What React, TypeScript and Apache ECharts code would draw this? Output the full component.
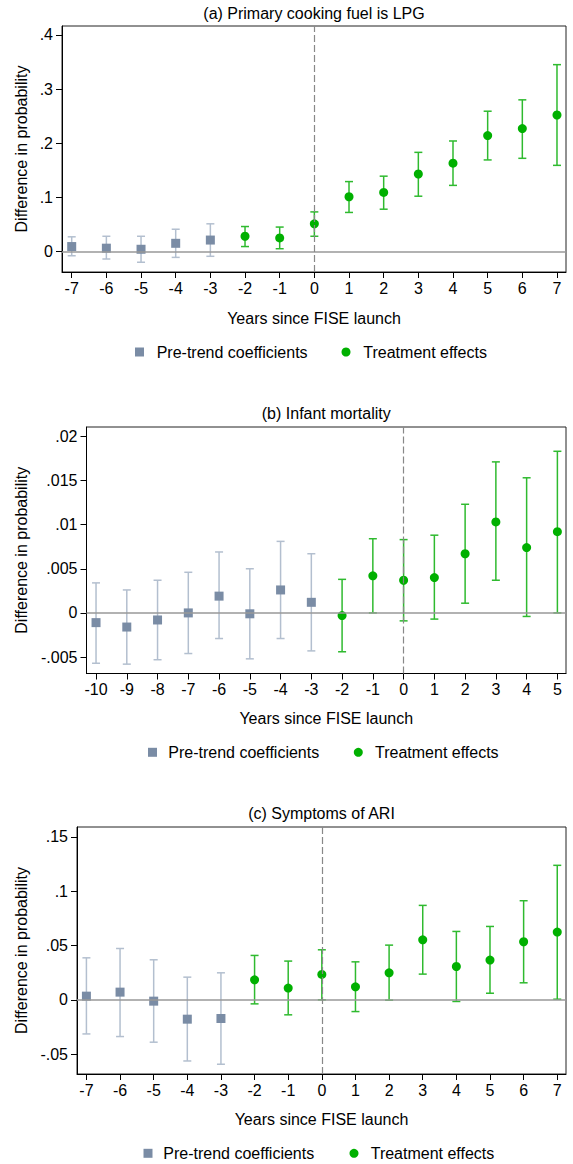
import React, { useEffect, useRef } from "react";
import * as echarts from "echarts";

// ---------- data ----------
const lpgYears = [-7, -6, -5, -4, -3, -2, -1, 0, 1, 2, 3, 4, 5, 6, 7];
const lpgCoef = [0.009, 0.006, 0.004, 0.015, 0.021, 0.028, 0.025, 0.051, 0.101, 0.109, 0.143, 0.163, 0.214, 0.227, 0.252];
const lpgLow = [-0.008, -0.014, -0.02, -0.011, -0.009, 0.009, 0.005, 0.028, 0.072, 0.078, 0.102, 0.122, 0.169, 0.172, 0.159];
const lpgHigh = [0.027, 0.028, 0.028, 0.041, 0.051, 0.046, 0.045, 0.073, 0.129, 0.139, 0.183, 0.204, 0.259, 0.28, 0.345];
const lpgTicks = [0, 0.1, 0.2, 0.3, 0.4];

const imYears = [-10, -9, -8, -7, -6, -5, -4, -3, -2, -1, 0, 1, 2, 3, 4, 5];
const imCoef = [-0.0011, -0.0016, -0.0008, 0.0, 0.0019, -0.0001, 0.0026, 0.0012, -0.0003, 0.0042, 0.0037, 0.004, 0.0067, 0.0103, 0.0074, 0.0092];
const imLow = [-0.0057, -0.0058, -0.0053, -0.0046, -0.0029, -0.0052, -0.0029, -0.0043, -0.0044, 0.0, -0.0009, -0.0007, 0.0011, 0.0037, -0.0004, 0.0];
const imHigh = [0.0034, 0.0026, 0.0037, 0.0046, 0.0069, 0.005, 0.0081, 0.0067, 0.0038, 0.0084, 0.0083, 0.0088, 0.0123, 0.0171, 0.0153, 0.0183];
const imTicks = [-0.005, 0, 0.005, 0.01, 0.015, 0.02];

const ariYears = [-7, -6, -5, -4, -3, -2, -1, 0, 1, 2, 3, 4, 5, 6, 7];
const ariCoef = [0.0034, 0.0071, -0.0012, -0.0178, -0.0172, 0.0184, 0.0108, 0.0234, 0.012, 0.0249, 0.0553, 0.0307, 0.0366, 0.0535, 0.0624];
const ariLow = [-0.0314, -0.0338, -0.039, -0.0563, -0.0593, -0.0037, -0.0138, 0.0, -0.0108, -0.0003, 0.0237, -0.0015, 0.0061, 0.0157, 0.0006];
const ariHigh = [0.0387, 0.0473, 0.0369, 0.0209, 0.0249, 0.0409, 0.0357, 0.0461, 0.035, 0.0504, 0.087, 0.063, 0.0676, 0.0913, 0.1239];
const ariTicks = [-0.05, 0, 0.05, 0.1, 0.15];

const panelTitles = ["(a) Primary cooking fuel is LPG", "(b) Infant mortality", "(c) Symptoms of ARI"];
const xTitle = "Years since FISE launch";
const yTitle = "Difference in probability";
const legendNames = ["Pre-trend coefficients", "Treatment effects"];
const treatStart = -2;

// ---------- styles ----------
const FONT = "'Liberation Sans', Arial, Helvetica, sans-serif";
const PRE_MARK = "#7a8ca5";
const PRE_CI = "#b3bfcf";
const TR_MARK = "#00b000";
const TR_CI = "#2fba2f";

const panels = [
  { years: lpgYears, coef: lpgCoef, low: lpgLow, high: lpgHigh, ticks: lpgTicks,
    grid: { left: 62, top: 26, width: 504, height: 246 },
    xMin: -7.28, xMax: 7.26, yMin: -0.038, yMax: 0.4164,
    titleY: 13, xTitleY: 318, legendY: 352,
    leg: { sq: 139.5, t1: 156.7, ci: 346, t2: 363.3 } },
  { years: imYears, coef: imCoef, low: imLow, high: imHigh, ticks: imTicks,
    grid: { left: 86.5, top: 427, width: 479.5, height: 246.5 },
    xMin: -10.31, xMax: 5.28, yMin: -0.00686, yMax: 0.02105,
    titleY: 413, xTitleY: 718.3, legendY: 752.3,
    leg: { sq: 152.5, t1: 168.3, ci: 358.3, t2: 375 } },
  { years: ariYears, coef: ariCoef, low: ariLow, high: ariHigh, ticks: ariTicks,
    grid: { left: 77, top: 827, width: 489, height: 247 },
    xMin: -7.28, xMax: 7.26, yMin: -0.0683, yMax: 0.1592,
    titleY: 813, xTitleY: 1119, legendY: 1153.3,
    leg: { sq: 148, t1: 163.3, ci: 354, t2: 370.7 } },
];

const fmtY = (v: number) => {
  if (Math.abs(v) < 1e-12) return "0";
  return String(Math.round(v * 100000) / 100000).replace("0.", ".");
};

const errRender = (color: string) => (params: any, api: any) => {
  const x = api.value(0);
  const lo = api.coord([x, api.value(1)]);
  const hi = api.coord([x, api.value(2)]);
  const style = { stroke: color, lineWidth: 1.5, fill: "none" };
  const cap = 4;
  return {
    type: "group",
    children: [
      { type: "line", shape: { x1: lo[0], y1: lo[1], x2: hi[0], y2: hi[1] }, style },
      { type: "line", shape: { x1: lo[0] - cap, y1: lo[1], x2: lo[0] + cap, y2: lo[1] }, style },
      { type: "line", shape: { x1: hi[0] - cap, y1: hi[1], x2: hi[0] + cap, y2: hi[1] }, style },
    ],
  };
};

export default function App() {
  const ref = useRef<HTMLDivElement>(null);
  useEffect(() => {
    if (!ref.current) return;
    const chart = echarts.init(ref.current, null, { renderer: "svg" });

    const grids: any[] = [];
    const xAxes: any[] = [];
    const yAxes: any[] = [];
    const series: any[] = [];
    const graphics: any[] = [];

    panels.forEach((p, i) => {
      grids.push({ ...p.grid, show: true, borderColor: "#222", borderWidth: 1, backgroundColor: "transparent", containLabel: false });
      xAxes.push({
        gridIndex: i, type: "value", min: p.xMin, max: p.xMax,
        axisLine: { show: true, onZero: false, lineStyle: { color: "#000", width: 1 } },
        axisTick: { show: true, length: 6, customValues: p.years, lineStyle: { color: "#000", width: 1 } },
        axisLabel: { customValues: p.years, fontSize: 16, color: "#000", fontFamily: FONT, margin: 8 },
        splitLine: { show: false },
      });
      yAxes.push({
        gridIndex: i, type: "value", min: p.yMin, max: p.yMax,
        axisLine: { show: true, onZero: false, lineStyle: { color: "#000", width: 1 } },
        axisTick: { show: true, length: 6, customValues: p.ticks, lineStyle: { color: "#000", width: 1 } },
        axisLabel: { customValues: p.ticks, fontSize: 16, color: "#000", fontFamily: FONT, margin: 9, formatter: fmtY },
        splitLine: { show: false },
      });

      const pre: any[] = [];
      const tr: any[] = [];
      const preCI: any[] = [];
      const trCI: any[] = [];
      p.years.forEach((yr, k) => {
        if (yr < treatStart) {
          pre.push([yr, p.coef[k]]);
          preCI.push([yr, p.low[k], p.high[k]]);
        } else {
          tr.push([yr, p.coef[k]]);
          trCI.push([yr, p.low[k], p.high[k]]);
        }
      });

      series.push({
        type: "line", xAxisIndex: i, yAxisIndex: i, data: [], silent: true, z: 1,
        markLine: {
          silent: true, symbol: ["none", "none"], label: { show: false },
          data: [
            { yAxis: 0, lineStyle: { color: "#999", width: 1.6, type: "solid" } },
            { xAxis: 0, lineStyle: { color: "#888", width: 1.2, type: [7, 3] } },
          ],
        },
      });
      series.push({
        type: "custom", name: legendNames[0] + " CI", xAxisIndex: i, yAxisIndex: i, z: 2,
        renderItem: errRender(PRE_CI), data: preCI, encode: { x: 0, y: [1, 2] },
      });
      series.push({
        type: "custom", name: legendNames[1] + " CI", xAxisIndex: i, yAxisIndex: i, z: 2,
        renderItem: errRender(TR_CI), data: trCI, encode: { x: 0, y: [1, 2] },
      });
      series.push({
        type: "scatter", name: legendNames[0], xAxisIndex: i, yAxisIndex: i, z: 3,
        symbol: "rect", symbolSize: 9, itemStyle: { color: PRE_MARK, opacity: 1 }, data: pre,
      });
      series.push({
        type: "scatter", name: legendNames[1], xAxisIndex: i, yAxisIndex: i, z: 3,
        symbol: "circle", symbolSize: 9, itemStyle: { color: TR_MARK, opacity: 1 }, data: tr,
      });

      const cx = p.grid.left + p.grid.width / 2;
      const cy = p.grid.top + p.grid.height / 2;
      const txt = (text: string, x: number, y: number, align = "center", extra: any = {}) => ({
        type: "text", x, y, silent: true, ...extra,
        style: { text, fill: "#000", font: `16px ${FONT}`, textAlign: align, textVerticalAlign: "middle", align, verticalAlign: "middle" },
      });
      graphics.push(txt(panelTitles[i], cx, p.titleY));
      graphics.push(txt(xTitle, cx, p.xTitleY));
      graphics.push(txt(yTitle, 21.5, cy, "center", { rotation: Math.PI / 2 }));
      graphics.push({ type: "rect", silent: true, shape: { x: p.leg.sq - 4.5, y: p.legendY - 4.5, width: 9, height: 9 }, style: { fill: PRE_MARK } });
      graphics.push(txt(legendNames[0], p.leg.t1, p.legendY, "left"));
      graphics.push({ type: "circle", silent: true, shape: { cx: p.leg.ci, cy: p.legendY, r: 4.5 }, style: { fill: TR_MARK } });
      graphics.push(txt(legendNames[1], p.leg.t2, p.legendY, "left"));
    });

    chart.setOption({
      animation: false,
      backgroundColor: "#fff",
      textStyle: { fontFamily: FONT },
      grid: grids,
      xAxis: xAxes,
      yAxis: yAxes,
      series,
      graphic: { elements: graphics },
    });
    return () => chart.dispose();
  }, []);
  return <div ref={ref} style={{ position: "absolute", left: 0, top: 0, width: 573, height: 1164 }} />;
}
